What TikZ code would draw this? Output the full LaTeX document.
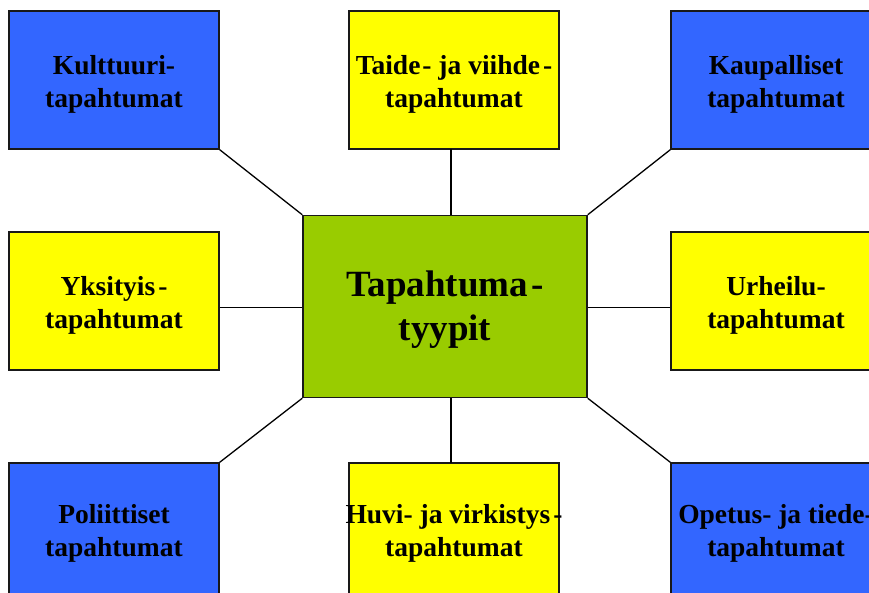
\documentclass[tikz,border=0pt]{standalone}
\usepackage{fontspec}
\setmainfont{Liberation Serif}
\definecolor{boxblue}{HTML}{3366FF}
\definecolor{boxyellow}{HTML}{FFFF00}
\definecolor{boxgreen}{HTML}{99CC00}
\tikzset{
  typebox/.style={draw=black!90, line width=1.5pt, minimum width=210pt, minimum height=138pt,
    inner sep=0pt},
  bluebox/.style={typebox, fill=boxblue},
  yellowbox/.style={typebox, fill=boxyellow},
  boxtext/.style={inner sep=0pt, align=center, font=\fontsize{27.5}{33}\selectfont\bfseries},
  centerbox/.style={draw=black!90, line width=1.5pt, fill=boxgreen, minimum width=284pt, minimum height=182pt,
    inner sep=0pt},
  centertext/.style={inner sep=0pt, align=center, font=\fontsize{37}{44}\selectfont\bfseries},
  link/.style={draw=black, line width=1.3pt}
}
\begin{document}
\begin{tikzpicture}[x=1pt,y=-1pt]
\useasboundingbox (0,0) rectangle (869,593);
\clip (0,0) rectangle (869,593);
\node[centerbox] (c) at (445,306.5) {};
\node[centertext] (ct) at ([yshift=-3pt]c.center) {Tapahtuma\kern3pt-\\tyypit};
\node[bluebox] (kult) at (114,80) {};
\node[boxtext] (kultT) at ([yshift=-4pt]kult.center) {Kulttuuri-\\tapahtumat};
\node[yellowbox] (taide) at (454,80) {};
\node[boxtext] (taideT) at ([yshift=-4pt]taide.center) {Taide\kern2pt- ja viihde\kern3pt-\\tapahtumat};
\node[bluebox] (kaup) at (776,80) {};
\node[boxtext] (kaupT) at ([yshift=-4pt]kaup.center) {Kaupalliset\\tapahtumat};
\node[yellowbox] (yks) at (114,301) {};
\node[boxtext] (yksT) at ([yshift=-4pt]yks.center) {Yksityis\kern3pt-\\tapahtumat};
\node[yellowbox] (urh) at (776,301) {};
\node[boxtext] (urhT) at ([yshift=-4pt]urh.center) {Urheilu-\\tapahtumat};
\node[bluebox] (pol) at (114,532) {};
\node[boxtext] (polT) at ([yshift=-1pt]pol.center) {Poliittiset\\tapahtumat};
\node[yellowbox] (huvi) at (454,532) {};
\node[boxtext] (huviT) at ([yshift=-1pt]huvi.center) {Huvi- ja virkistys\kern3pt-\\tapahtumat};
\node[bluebox] (opet) at (776,532) {};
\node[boxtext] (opetT) at ([yshift=-1pt]opet.center) {Opetus- ja tiede-\\tapahtumat};
\coordinate (tt) at (451,149);
\coordinate (bt) at (451,463);
\draw[link] (kult.south east) -- (c.north west);
\draw[link] (tt) -- (tt |- c.north);
\draw[link] (kaup.south west) -- (c.north east);
\draw[link] (yks.east |- 0,307.5) -- (c.west |- 0,307.5);
\draw[link] (urh.west |- 0,307.5) -- (c.east |- 0,307.5);
\draw[link] (pol.north east) -- (c.south west);
\draw[link] (bt) -- (bt |- c.south);
\draw[link] (opet.north west) -- (c.south east);
\end{tikzpicture}
\end{document}
